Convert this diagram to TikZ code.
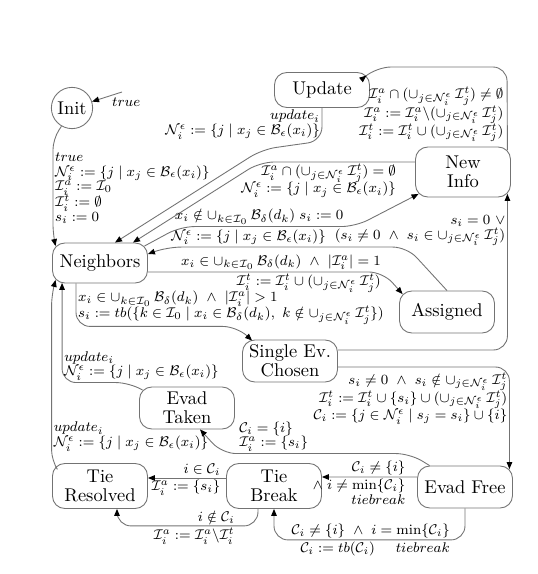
\documentclass[tikz,border=0pt]{standalone}
\usepackage{amsmath}
\usepackage{amssymb}
\usetikzlibrary{arrows.meta,calc}
\tikzset{>/.tip={Triangle[length=4pt,width=3.2pt,color=black]},
  state/.style={draw=black!55, line width=0.5pt, rounded corners=7pt, align=center,
    minimum width=1.9cm, minimum height=0.84cm, inner sep=2pt,
    font=\fontsize{10.5}{10.8}\selectfont},
  lbl/.style={inner sep=1pt, font=\fontsize{7.9}{8.4}\selectfont},
  trans/.style={->, draw=black!55, line width=0.5pt, rounded corners=8pt}}
\newcommand{\Neps}{\mathcal{N}_i^{\epsilon}}
\newcommand{\Ucup}{\mathop{\cup}_{j\in\mathcal{N}_i^{\epsilon}}}
\newcommand{\Kcup}{\mathop{\cup}_{k\in\mathcal{I}_0}}
\newcommand{\nbrupd}{\Neps := \{j \mid x_j \in \mathcal{B}_\epsilon(x_i)\}}
\lineskip=0pt

\begin{document}
\begin{tikzpicture}
\useasboundingbox (0,0) rectangle (10.76,11.48);
\node[state,circle,minimum size=0.8cm] (Init) at (1.44,9.32) {Init};
\node[state,minimum height=0.7cm] (Update) at (6.44,9.68) {Update};
\node[state,minimum height=1cm] (NewInfo) at (9.26,8.04) {New\\Info};
\node[state,minimum height=0.8cm] (Neighbors) at (2.0,6.22) {Neighbors};
\node[state] (Assigned) at (8.94,5.24) {Assigned};
\node[state] (Single) at (5.80,4.26) {Single Ev.\\Chosen};
\node[state] (EvadTaken) at (3.74,3.32) {Evad\\Taken};
\node[state,minimum height=0.9cm] (TieResolved) at (2.0,1.76) {Tie\\Resolved};
\node[state,minimum height=0.9cm] (TieBreak) at (5.48,1.76) {Tie\\Break};
\node[state] (EvadFree) at (9.3,1.74) {Evad Free};
\coordinate (init-in) at (2.44,9.64);
\coordinate (upd-in) at (10.14,10.14);

\draw[trans] (init-in) -- node[lbl,pos=0.4,below right]{$true$} (Init);
\draw[trans,rounded corners=6pt] (Init.240) -- ++(-0.17,-0.26)
  -- node[lbl,pos=0.118,anchor=north west,align=left]{$true$\\$\nbrupd$\\$\mathcal{I}_i^a := \mathcal{I}_0$\\$\mathcal{I}_i^t := \emptyset$\\$s_i := 0$} ++(0,-1.9)
  -- ($(Neighbors.north west)+(0.07,-0.07)$);
\draw[trans] (Update.south) -- node[lbl,pos=0,anchor=north east,align=right]{$update_i$\\$\nbrupd$} ++(0,-0.66)
  -- ++(-1.2,-0.17) -- ($(Neighbors.north)+(0.3,0)$);
\draw[trans] ($(NewInfo.west)+(0,0.2)$)
  -- node[lbl,pos=0.11,below left,align=right]{$\mathcal{I}_i^a \cap (\Ucup\mathcal{I}_j^t) = \emptyset$\\$\nbrupd$} ++(-3.1,0)
  -- ($(Neighbors.north)+(0.66,0)$);
\draw[trans] ($(Neighbors.north east)+(-0.07,-0.07)$) -- ++(0.72,0.39)
  -- node[lbl,pos=0.45,above]{$x_i \notin \Kcup\mathcal{B}_\delta(d_k)\; s_i := 0$} ++(3.5,0)
  -- ($(NewInfo.south west)+(0.07,0.07)$);
\draw[trans] (Assigned.north) -- ++(-0.8,0.87)
  -- node[lbl,pos=0.66,above]{$\nbrupd$} ++(-4.8,0)
  -- ($(Neighbors.east)+(0,0.18)$);
\draw[trans] ($(Neighbors.east)+(0,-0.18)$)
  -- node[lbl,pos=1,above left]{$x_i \in \Kcup\mathcal{B}_\delta(d_k)\ \wedge\ |\mathcal{I}_i^a| = 1$}
     node[lbl,pos=1,below left]{$\mathcal{I}_i^t := \mathcal{I}_i^t \cup (\Ucup\mathcal{I}_j^t)$} ++(4.7,0)
  -- ($(Assigned.north west)+(0.07,-0.07)$);
\draw[trans] ($(Neighbors.south)+(-0.48,0)$)
  -- node[lbl,pos=1,above right,align=left]{$x_i \in \Kcup\mathcal{B}_\delta(d_k)\ \wedge\ |\mathcal{I}_i^a| > 1$\\$s_i := tb(\{k \in \mathcal{I}_0 \mid x_i \in \mathcal{B}_\delta(d_k),\ k \notin \Ucup\mathcal{I}_j^t\})$} ++(0,-0.86)
  -- ++(3.22,0) -- ($(Single.north west)+(0.2,-0.02)$);
\draw[trans] ($(EvadTaken.north west)+(0.07,-0.07)$) -- ++(-0.25,0.15)
  -| node[lbl,pos=0.5,above right,align=left]{$update_i$\\$\nbrupd$} ($(Neighbors.south west)+(0.2,0.01)$);
\draw[trans,rounded corners=6pt] ($(TieResolved.north west)+(0.07,-0.07)$) -- ++(-0.08,0.12)
  -- node[lbl,pos=0.145,right,align=left]{$update_i$\\$\nbrupd$} ++(0,3.3)
  -- ($(Neighbors.south west)+(0.07,0.07)$);
\draw[trans] ($(TieBreak.west)+(0,0.16)$)
  -- node[lbl,pos=0,above left,xshift=-2pt]{$i \in \mathcal{C}_i$}
     node[lbl,pos=0,below left,xshift=-2pt]{$\mathcal{I}_i^a := \{s_i\}$} ($(TieResolved.east)+(0,0.16)$);
\draw[trans] ($(TieBreak.south)+(-0.32,0)$) -- ++(0,-0.34)
  -- node[lbl,pos=0.15,above left]{$i \notin \mathcal{C}_i$}
     node[lbl,pos=0.15,below left]{$\mathcal{I}_i^a := \mathcal{I}_i^a\backslash\mathcal{I}_i^t$} ++(-2.82,0)
  -- ($(TieResolved.south)+(0.34,0)$);
\draw[trans] ($(EvadFree.west)+(0,0.2)$)
  -- node[lbl,pos=0.1,above left]{$\mathcal{C}_i \neq \{i\}$}
     node[lbl,pos=0.1,below left,align=right]{$\wedge\; i \neq \min\{\mathcal{C}_i\}$\\$tiebreak$} ($(TieBreak.east)+(0,0.18)$);
\draw[trans] (EvadFree.south) -- ++(0,-0.63)
  -- node[lbl,pos=0.068,above left]{$\mathcal{C}_i \neq \{i\}\ \wedge\ i = \min\{\mathcal{C}_i\}$}
     node[lbl,pos=0.068,below left]{$\mathcal{C}_i := tb(\mathcal{C}_i)$\hspace{1.5em}$tiebreak$} ++(-3.82,0)
  -- (TieBreak.south);
\draw[trans] ($(EvadFree.north west)+(0.25,0)$) -- ++(-0.39,0.24)
  -- node[lbl,pos=0.92,above right,align=left]{$\mathcal{C}_i = \{i\}$\\$\mathcal{I}_i^a := \{s_i\}$} ++(-3.76,0)
  -- ($(EvadTaken.south)+(0.26,0)$);
\draw[trans] ($(Single.east)+(0,-0.12)$)
  -| node[lbl,pos=0.5,below left,yshift=-2pt,align=right]{$s_i \neq 0\ \wedge\ s_i \notin \Ucup\mathcal{I}_j^t$\\$\mathcal{I}_i^t := \mathcal{I}_i^t \cup \{s_i\} \cup (\Ucup\mathcal{I}_j^t)$\\$\mathcal{C}_i := \{j \in \Neps \mid s_j = s_i\} \cup \{i\}$}
  ($(EvadFree.north east)+(-0.07,-0.07)$);
\draw[trans] ($(Single.east)+(0,0.22)$)
  -| node[lbl,pos=0.938,anchor=north east,align=right]{$s_i = 0\ \vee$\\$(s_i \neq 0\ \wedge\ s_i \in \Ucup\mathcal{I}_j^t)$}
  ($(NewInfo.south east)+(-0.07,0.07)$);
\draw[trans] ($(NewInfo.north east)+(-0.07,-0.07)$) -- (upd-in)
  -- ++(-2.6,0) -- ($(Update.north east)+(-0.07,-0.07)$);
\node[lbl,anchor=south east,align=right] at (10.11,8.6) {$\mathcal{I}_i^a \cap (\Ucup\mathcal{I}_j^t) \neq \emptyset$\\$\mathcal{I}_i^a := \mathcal{I}_i^a\backslash(\Ucup\mathcal{I}_j^t)$\\$\mathcal{I}_i^t := \mathcal{I}_i^t \cup (\Ucup\mathcal{I}_j^t)$};
\end{tikzpicture}
\end{document}
